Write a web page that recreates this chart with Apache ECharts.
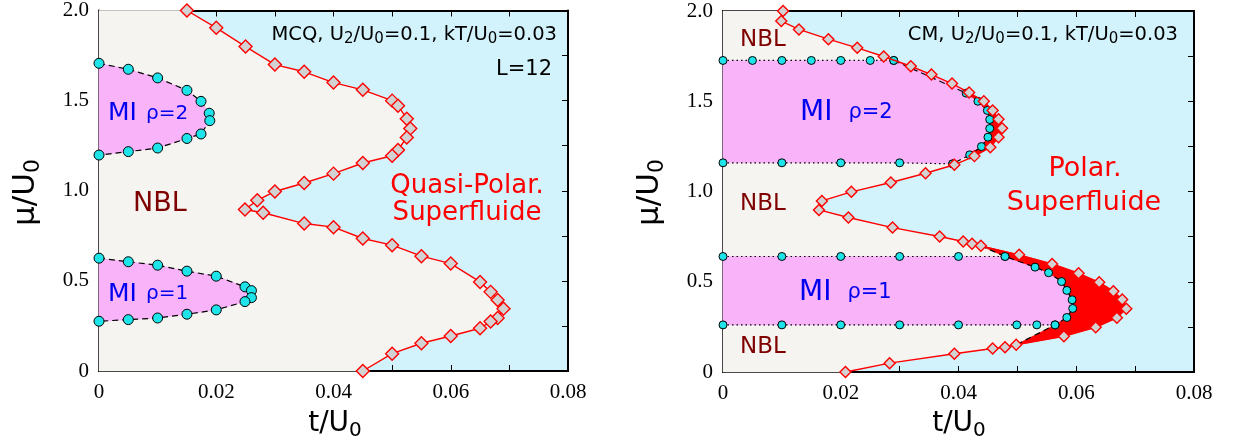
<!DOCTYPE html>
<html>
<head>
<meta charset="utf-8">
<script src="https://cdn.jsdelivr.net/npm/echarts@6/dist/echarts.min.js"></script>
<style>
html,body{margin:0;padding:0;background:#fff;}
#chart{width:1239px;height:447px;}
</style>
</head>
<body>
<div id="chart"></div>
<script>
// ---------- data (t/U0, mu/U0) ----------
// Left panel (MCQ) : NBL / superfluid boundary (diamonds)
const leftBoundary = [
  [0.015,2.0],[0.020,1.904],[0.025,1.80],[0.030,1.70],[0.035,1.66],[0.040,1.60],
  [0.045,1.56],[0.050,1.50],[0.051,1.472],[0.0525,1.40],[0.0531,1.346],[0.0525,1.296],
  [0.051,1.226],[0.050,1.194],[0.045,1.154],[0.040,1.095],[0.035,1.043],[0.030,0.996],
  [0.027,0.947],[0.0249,0.896],[0.028,0.878],[0.035,0.818],[0.040,0.798],[0.045,0.735],
  [0.050,0.698],[0.055,0.637],[0.060,0.596],[0.065,0.494],[0.0668,0.439],[0.068,0.394],
  [0.069,0.346],[0.068,0.294],[0.0668,0.274],[0.065,0.237],[0.060,0.194],[0.055,0.154],
  [0.050,0.096],[0.045,0.0]
];
// Left panel : Mott lobes (circles)
const leftMI2 = [
  [0,1.707],[0.005,1.674],[0.010,1.626],[0.015,1.557],[0.0174,1.496],[0.0188,1.43],
  [0.0189,1.389],[0.0174,1.315],[0.015,1.29],[0.010,1.237],[0.005,1.217],[0,1.198]
];
const leftMI1 = [
  [0,0.626],[0.005,0.606],[0.010,0.587],[0.015,0.554],[0.020,0.526],[0.0249,0.467],
  [0.026,0.446],[0.026,0.407],[0.0249,0.385],[0.020,0.339],[0.015,0.315],[0.010,0.294],
  [0.005,0.285],[0,0.276]
];
// Right panel (CM) : boundary (diamonds)
const rightBoundary = [
  [0.0102,2.0],[0.0099,1.944],[0.0129,1.898],[0.0179,1.844],[0.0228,1.796],[0.0273,1.748],
  [0.0319,1.694],[0.0354,1.648],[0.0389,1.598],[0.0418,1.548],[0.0443,1.50],[0.0458,1.449],
  [0.0468,1.40],[0.0474,1.351],[0.0468,1.301],[0.0454,1.245],[0.0427,1.196],[0.0393,1.148],
  [0.0344,1.101],[0.0285,1.05],[0.0218,0.998],[0.0168,0.948],[0.0163,0.898],[0.0213,0.856],
  [0.0288,0.80],[0.0368,0.751],[0.0408,0.723],[0.0423,0.710],[0.0438,0.699],[0.0503,0.649],
  [0.0559,0.599],[0.0604,0.547],[0.0639,0.497],[0.0663,0.448],[0.0678,0.402],[0.0685,0.35],
  [0.0669,0.30],[0.0633,0.248],[0.0579,0.198],[0.0498,0.151],[0.0479,0.137],[0.0458,0.130],
  [0.0393,0.101],[0.0283,0.049],[0.0208,0.0]
];
// Right panel : Mott lobes (circles)
const rightMI2Top = [[0,1.726],[0.005,1.726],[0.010,1.726],[0.015,1.726],[0.020,1.726],[0.025,1.726],[0.029,1.726]];
const rightMI2Tip = [[0.0413,1.545],[0.0433,1.50],[0.0449,1.449],[0.0453,1.399],[0.0453,1.349],[0.045,1.301],[0.0439,1.249],[0.0419,1.203],[0.039,1.153]];
const rightMI2Bot = [[0,1.159],[0.010,1.159],[0.020,1.159],[0.030,1.159]];
const rightMI1Top = [[0,0.640],[0.010,0.640],[0.020,0.640],[0.030,0.640],[0.040,0.640],[0.0479,0.640]];
const rightMI1Tip = [[0.053,0.581],[0.0553,0.55],[0.0575,0.501],[0.0584,0.452],[0.0593,0.40],[0.0594,0.352],[0.0584,0.302]];
const rightMI1Bot = [[0,0.261],[0.010,0.261],[0.020,0.261],[0.030,0.261],[0.040,0.261],[0.0499,0.261],[0.0533,0.261],[0.0564,0.261]];

// tick labels
const xTickValues = [0,0.02,0.04,0.06,0.08];
const xTickLabels = ['0','0.02','0.04','0.06','0.08'];
const yTickValues = [0,0.5,1.0,1.5,2.0];
const yTickLabels = ['0','0.5','1.0','1.5','2.0'];

// ---------- styles ----------
const C_BLUE_BG = '#d3f3fc', C_BEIGE = '#f5f4f0', C_PINK = '#f9b3f9', C_RED = '#ff0000';
const C_CYAN = '#1ee3e8', C_DIAM = '#d2d2d2';
const SANS = '"DejaVu Sans"', SERIF = '"Liberation Serif"';

function findLabel(v, vals, labs){
  for (let i=0;i<vals.length;i++){ if (Math.abs(v-vals[i])<1e-7) return labs[i]; }
  return '';
}
function xAxisDef(grid, pos, showLabel){
  return {type:'value', gridIndex:grid, position:pos, min:0, max:0.08, interval:0.01,
    axisLine:{show:true,onZero:false,lineStyle:{color:'#000',width:2}},
    axisTick:{show:true,inside:true,length:6,lineStyle:{color:'#000',width:1}},
    splitLine:{show:false},
    axisLabel:{show:showLabel, margin:11, color:'#000', fontFamily:SERIF, fontSize:21,
      formatter:v=>findLabel(v,xTickValues,xTickLabels)}};
}
function yAxisDef(grid, pos, showLabel){
  return {type:'value', gridIndex:grid, position:pos, min:0, max:2, interval:0.25,
    axisLine:{show:true,onZero:false,lineStyle:{color:'#000',width:2}},
    axisTick:{show:true,inside:true,length:6,lineStyle:{color:'#000',width:1}},
    splitLine:{show:false},
    axisLabel:{show:showLabel, margin:10, color:'#000', fontFamily:SERIF, fontSize:21,
      formatter:v=>findLabel(v,yTickValues,yTickLabels)}};
}
function polySeries(points, color, ax, z){
  return {type:'custom', xAxisIndex:ax, yAxisIndex:ax, z:z, silent:true, animation:false,
    data:points, encode:{x:0,y:1},
    renderItem:function(params, api){
      if (params.dataIndex!==0) return null;
      return {type:'polygon', shape:{points:points.map(p=>api.coord(p))},
        style:{fill:color, stroke:color, lineWidth:0.6}};
    }};
}
function diamondSeries(data, ax, size){
  return {type:'line', xAxisIndex:ax, yAxisIndex:ax, z:5, data:data, symbol:'diamond', symbolSize:size,
    showSymbol:true, silent:true, animation:false,
    lineStyle:{color:C_RED,width:1.4}, itemStyle:{color:C_DIAM,borderColor:C_RED,borderWidth:1.4}};
}
function circleSeries(data, ax, size, dash){
  return {type:'line', xAxisIndex:ax, yAxisIndex:ax, z:4, data:data, symbol:'circle', symbolSize:size,
    showSymbol:true, silent:true, animation:false,
    lineStyle:{color:'#000',width:1.2,type:dash}, itemStyle:{color:C_CYAN,borderColor:'#000',borderWidth:1}};
}
function noSym(p){ return {value:p, symbol:'none'}; }

// polygons built from the data
const leftNBL = [[0,0],[0,2]].concat(leftBoundary);
const rightNBL = [[0,0],[0,2]].concat(rightBoundary);
const rightPink2 = rightMI2Top.concat(rightBoundary.slice(6,9), rightMI2Tip, rightMI2Bot.slice().reverse());
const rightPink1 = rightMI1Top.concat(rightMI1Tip, rightMI1Bot.slice().reverse());
const rightRed1 = rightBoundary.slice(28,40).concat([rightMI1Bot[rightMI1Bot.length-1]], rightMI1Tip.slice().reverse(), [rightMI1Top[rightMI1Top.length-1]]);
const rightRed2 = rightBoundary.slice(9,17).concat(rightMI2Tip.slice(0,8).reverse());

const dashed1 = [noSym(rightBoundary[28]), rightMI1Top[rightMI1Top.length-1]].concat(rightMI1Tip, [rightMI1Bot[rightMI1Bot.length-1], noSym(rightBoundary[39])]);
const dashed2 = [rightMI2Top[rightMI2Top.length-1]].concat(rightMI2Tip);

const DOT = [1.5,3];
const DASH = [6,4];

const chart = echarts.init(document.getElementById('chart'), null, {renderer:'canvas'});

function txt(x, y, text, size, color, align, rich){
  return {type:'text', x:x, y:y, silent:true, z:100,
    style:{text:text, x:0, y:0, fill:color, font:size+'px '+SANS, align:align||'left', verticalAlign:'middle', rich:rich}};
}
const subRich = (m, s, lh, slh) => ({m:{fontSize:m,fontFamily:'DejaVu Sans',lineHeight:lh,fill:'#000',verticalAlign:'middle'},
                                    s:{fontSize:s,fontFamily:'DejaVu Sans',lineHeight:slh,fill:'#000',verticalAlign:'bottom'}});
const miRich = (a, b, pad) => ({a:{fontSize:a,fontFamily:'DejaVu Sans',fill:'#0000ee',verticalAlign:'middle'},
                                b:{fontSize:b,fontFamily:'DejaVu Sans',fill:'#0000ee',verticalAlign:'middle',padding:[0,0,0,pad]}});

const graphics = [
  {type:'text', x:557, y:23, z:100, silent:true, style:{text:'{m|MCQ, U}{s|2}{m|/U}{s|0}{m|=0.1, kT/U}{s|0}{m|=0.03}', x:0,y:0, align:'right', verticalAlign:'top', font:'19.5px '+SANS, rich:subRich(19.5,15,24,8)}},
  {type:'text', x:1178, y:23, z:100, silent:true, style:{text:'{m|CM, U}{s|2}{m|/U}{s|0}{m|=0.1, kT/U}{s|0}{m|=0.03}', x:0,y:0, align:'right', verticalAlign:'top', font:'19.5px '+SANS, rich:subRich(19.5,15,24,8)}},
  txt(552, 70, 'L=12', 21, '#000', 'right'),
  txt(108, 113.5, '{a|MI}{b|ρ=2}', 25, '#0000ee', 'left', miRich(25,20,9)),
  txt(108, 294, '{a|MI}{b|ρ=1}', 25, '#0000ee', 'left', miRich(25,20,9)),
  txt(133, 204, 'NBL', 27, '#7f0000', 'left'),
  txt(467, 186, 'Quasi-Polar.', 26, C_RED, 'center'),
  txt(467, 213, 'Superfluide', 26, C_RED, 'center'),
  txt(800, 113, '{a|MI}{b|ρ=2}', 28, '#0000ee', 'left', miRich(28,21,16)),
  txt(799, 293, '{a|MI}{b|ρ=1}', 28, '#0000ee', 'left', miRich(28,21,16)),
  txt(740, 40, 'NBL', 23, '#7f0000', 'left'),
  txt(740, 204, 'NBL', 23, '#7f0000', 'left'),
  txt(740, 347, 'NBL', 23, '#7f0000', 'left'),
  txt(1085, 169, 'Polar.', 27, C_RED, 'center'),
  txt(1084, 203, 'Superfluide', 27, C_RED, 'center'),
  // axis names
  {type:'text', x:335, y:407, z:100, silent:true, style:{text:'{m|t/U}{s|0}', x:0,y:0, align:'center', verticalAlign:'top', font:'28px '+SANS, rich:subRich(28,20,34,10)}},
  {type:'text', x:959, y:407, z:100, silent:true, style:{text:'{m|t/U}{s|0}', x:0,y:0, align:'center', verticalAlign:'top', font:'28px '+SANS, rich:subRich(28,20,34,10)}},
  {type:'text', x:25.5, y:192.5, rotation:Math.PI/2, z:100, silent:true, style:{text:'{m|μ/U}{s|0}', x:0,y:0, align:'center', verticalAlign:'middle', font:'31px '+SANS, rich:subRich(31,22,38,10)}},
  {type:'text', x:649.5, y:192.5, rotation:Math.PI/2, z:100, silent:true, style:{text:'{m|μ/U}{s|0}', x:0,y:0, align:'center', verticalAlign:'middle', font:'31px '+SANS, rich:subRich(31,22,38,10)}}
];

const option = {
  animation:false,
  backgroundColor:'#ffffff',
  grid:[
    {left:99, top:10, width:469, height:361, show:true, backgroundColor:C_BLUE_BG, borderWidth:0},
    {left:723, top:11, width:471, height:361, show:true, backgroundColor:C_BLUE_BG, borderWidth:0}
  ],
  xAxis:[xAxisDef(0,'bottom',true), xAxisDef(0,'top',false), xAxisDef(1,'bottom',true), xAxisDef(1,'top',false)],
  yAxis:[yAxisDef(0,'left',true), yAxisDef(0,'right',false), yAxisDef(1,'left',true), yAxisDef(1,'right',false)],
  series:[
    polySeries(leftNBL, C_BEIGE, 0, 1),
    polySeries(leftMI2, C_PINK, 0, 2),
    polySeries(leftMI1, C_PINK, 0, 2),
    circleSeries(leftMI2, 0, 10, DASH),
    circleSeries(leftMI1, 0, 10, DASH),
    diamondSeries(leftBoundary, 0, 13),

    polySeries(rightNBL, C_BEIGE, 2, 1),
    polySeries(rightPink2, C_PINK, 2, 2),
    polySeries(rightPink1, C_PINK, 2, 2),
    polySeries(rightRed1, C_RED, 2, 3),
    polySeries(rightRed2, C_RED, 2, 3),
    circleSeries(rightMI2Top, 2, 8, DOT),
    circleSeries(rightMI2Bot.concat([rightMI2Tip[rightMI2Tip.length-1]]), 2, 8, DOT),
    circleSeries(dashed2, 2, 8, DASH),
    circleSeries(rightMI1Top, 2, 8, DOT),
    circleSeries(rightMI1Bot, 2, 8, DOT),
    circleSeries(dashed1, 2, 8, DASH),
    diamondSeries(rightBoundary, 2, 11)
  ],
  graphic:graphics
};
chart.setOption(option);
</script>
</body>
</html>
